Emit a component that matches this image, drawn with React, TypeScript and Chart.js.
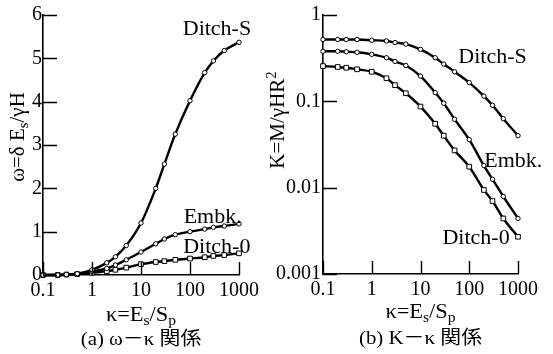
import React, { useEffect, useRef } from 'react';
import { Chart, registerables } from 'chart.js';
Chart.register(...registerables);

// ---- data ----
const kappa = [0.1, 0.2, 0.3, 0.5, 1, 2, 3, 5, 10, 20, 30, 50, 100, 200, 300, 500, 1000];
const omegaDitchS = [0, 0, 0.01, 0.03, 0.12, 0.28, 0.42, 0.68, 1.2, 2.0, 2.56, 3.25, 4.02, 4.67, 4.94, 5.18, 5.37];
const omegaEmbk = [0, 0, 0.01, 0.03, 0.08, 0.15, 0.23, 0.35, 0.53, 0.72, 0.83, 0.93, 1.0, 1.06, 1.1, 1.13, 1.18];
const omegaDitch0 = [0, 0, 0.01, 0.02, 0.05, 0.09, 0.12, 0.17, 0.25, 0.3, 0.32, 0.35, 0.38, 0.41, 0.44, 0.46, 0.5];
const KDitchS = [0.52, 0.52, 0.52, 0.52, 0.51, 0.5, 0.48, 0.46, 0.4, 0.32, 0.27, 0.22, 0.165, 0.115, 0.09, 0.063, 0.04];
const KEmbk = [0.38, 0.38, 0.375, 0.37, 0.35, 0.32, 0.29, 0.26, 0.196, 0.126, 0.095, 0.062, 0.036, 0.018, 0.0125, 0.0079, 0.0044];
const KDitch0 = [0.256, 0.25, 0.245, 0.235, 0.22, 0.185, 0.154, 0.124, 0.087, 0.055, 0.04, 0.027, 0.0175, 0.0094, 0.007, 0.0044, 0.0027];
const kappaTicks = [0.1, 1, 10, 100, 1000];
const omegaTicks = [0, 1, 2, 3, 4, 5, 6];
const KTicks = [0.001, 0.01, 0.1, 1];
const seriesNames = ['Ditch-S', 'Embk.', 'Ditch-0'];
// label anchors (data coordinates)
const omegaLabelX = [355, 290, 352];
const omegaLabelY = [5.65, 1.32, 0.62];
const KLabelX = [300, 800, 138];
const KLabelY = [0.318, 0.0198, 0.00254];

const FAMILY = '"Liberation Serif", "Noto Sans CJK JP", serif';
const font = (s: number) => `${s}px ${FAMILY}`;

type Part = [string, number]; // 0 normal, 1 sub, 2 sup

function drawRich(ctx: CanvasRenderingContext2D, parts: Part[], x: number, y: number, size: number, sx = 1) {
  const small = Math.round(size * 0.68);
  let total = 0;
  const widths = parts.map(([t, m]) => {
    ctx.font = font(m ? small : size);
    const w = ctx.measureText(t).width;
    total += w;
    return w;
  });
  ctx.save();
  ctx.translate(x, y);
  ctx.scale(sx, 1);
  ctx.fillStyle = '#000';
  ctx.textBaseline = 'alphabetic';
  ctx.textAlign = 'left';
  let cx = -total / 2;
  const base = size * 0.34;
  parts.forEach(([t, m], i) => {
    ctx.font = font(m ? small : size);
    const dy = m === 1 ? size * 0.22 : m === 2 ? -size * 0.4 : 0;
    ctx.fillText(t, cx, base + dy);
    cx += widths[i];
  });
  ctx.restore();
}

function makeDatasets(values: number[][]) {
  return values.map((vals, i) => ({
    label: seriesNames[i],
    data: kappa.map((k, j) => ({ x: k, y: vals[j] })),
    borderColor: '#000',
    borderWidth: 2.4,
    backgroundColor: '#fff',
    pointBackgroundColor: '#fff',
    pointBorderColor: '#000',
    pointBorderWidth: 1,
    pointStyle: i === 2 ? 'rect' : 'circle',
    pointRadius: i === 2 ? 3.3 : 2.2,
    cubicInterpolationMode: 'monotone' as const,
    clip: false as any,
  }));
}

function makeOptions(cfg: {
  yType: 'linear' | 'logarithmic';
  yMin: number; yMax: number; yTicks: number[];
  yWidth: number; xHeight: number; padRight: number;
  yPad: number; xPad: number;
  labelsX: number[]; labelsY: number[];
  yTitle: Part[]; yTitleDX: number; yTitleY: number;
  xTitleY: number; caption: string; captionY: number;
}) {
  const tickFont = { family: FAMILY, size: 20 };
  const plugin = {
    id: 'deco',
    afterDraw(chart: any) {
      const { ctx, chartArea: a, scales } = chart;
      const xs = scales.x, ys = scales.y;
      ctx.save();
      ctx.strokeStyle = '#000';
      ctx.lineWidth = 1.4;
      ctx.beginPath();
      kappaTicks.forEach((v) => {
        const px = Math.round(xs.getPixelForValue(v)) + 0.5;
        ctx.moveTo(px, a.bottom);
        ctx.lineTo(px, a.bottom - 13);
      });
      cfg.yTicks.forEach((v) => {
        const py = Math.round(ys.getPixelForValue(v)) + 0.5;
        ctx.moveTo(a.left, py);
        ctx.lineTo(a.left + 14, py);
      });
      ctx.stroke();
      ctx.restore();
      // series labels
      ctx.save();
      ctx.fillStyle = '#000';
      ctx.font = font(20);
      ctx.textAlign = 'center';
      ctx.textBaseline = 'middle';
      seriesNames.forEach((n, i) => {
        const px = xs.getPixelForValue(cfg.labelsX[i]);
        const py = ys.getPixelForValue(cfg.labelsY[i]);
        ctx.save();
        ctx.translate(px, py);
        ctx.scale(1.1, 1);
        ctx.fillText(n, 0, 0);
        ctx.restore();
      });
      ctx.restore();
      // y title
      ctx.save();
      ctx.translate(a.left + cfg.yTitleDX, cfg.yTitleY);
      ctx.rotate(-Math.PI / 2);
      drawRich(ctx, cfg.yTitle, 0, 0, 20, 1.05);
      ctx.restore();
      // x title
      const cx = (a.left + a.right) / 2;
      drawRich(ctx, [['κ=E', 0], ['s', 1], ['/S', 0], ['p', 1]], cx, cfg.xTitleY, 20, 1.12);
      drawRich(ctx, [[cfg.caption, 0]], cx, cfg.captionY, 19, 1.1);
    },
  };
  return {
    plugin,
    options: {
      responsive: false,
      maintainAspectRatio: false,
      animation: false as const,
      events: [] as any[],
      layout: { padding: { left: 0, right: cfg.padRight, top: 15, bottom: 0 } },
      plugins: { legend: { display: false }, tooltip: { enabled: false } },
      scales: {
        x: {
          type: 'logarithmic' as const,
          min: 0.1,
          max: 1000,
          afterBuildTicks: (s: any) => { s.ticks = kappaTicks.map((v) => ({ value: v })); },
          afterFit: (s: any) => { s.height = cfg.xHeight; },
          ticks: { color: '#000', font: tickFont, padding: cfg.xPad, maxRotation: 0, autoSkip: false, callback: (v: any) => String(v) },
          grid: { display: true, drawOnChartArea: false, drawTicks: false },
          border: { display: true, color: '#000', width: 1.6 },
        },
        y: {
          type: cfg.yType,
          min: cfg.yMin,
          max: cfg.yMax,
          afterBuildTicks: (s: any) => { s.ticks = cfg.yTicks.map((v) => ({ value: v })); },
          afterFit: (s: any) => { s.width = cfg.yWidth; },
          ticks: { color: '#000', font: tickFont, padding: cfg.yPad, autoSkip: false, callback: (v: any) => String(v) },
          grid: { display: true, drawOnChartArea: false, drawTicks: false },
          border: { display: true, color: '#000', width: 1.6 },
        },
      },
    },
  };
}

function Panel(props: { w: number; build: () => any }) {
  const ref = useRef<HTMLCanvasElement>(null);
  useEffect(() => {
    const { datasets, plugin, options } = props.build();
    const chart = new Chart(ref.current!, {
      type: 'line',
      data: { datasets },
      options,
      plugins: [plugin],
    } as any);
    return () => chart.destroy();
  }, []);
  return <canvas ref={ref} width={props.w} height={354} style={{ display: 'block', width: props.w, height: 354 }} />;
}

const buildLeft = () => {
  const { plugin, options } = makeOptions({
    yType: 'linear', yMin: 0, yMax: 6, yTicks: omegaTicks,
    yWidth: 43, xHeight: 79, padRight: 27, yPad: 1, xPad: 4,
    labelsX: omegaLabelX, labelsY: omegaLabelY,
    yTitle: [['ω=δ E', 0], ['s', 1], ['/γH', 0]], yTitleDX: -26, yTitleY: 137,
    xTitleY: 314, caption: '(a) ω－κ 関係', captionY: 339,
  });
  return { datasets: makeDatasets([omegaDitchS, omegaEmbk, omegaDitch0]), plugin, options };
};

const buildRight = () => {
  const { plugin, options } = makeOptions({
    yType: 'logarithmic', yMin: 0.001, yMax: 1, yTicks: KTicks,
    yWidth: 57, xHeight: 80, padRight: 35, yPad: 2, xPad: 4,
    labelsX: KLabelX, labelsY: KLabelY,
    yTitle: [['K=M/γHR', 0], ['2', 2]], yTitleDX: -46, yTitleY: 120,
    xTitleY: 311, caption: '(b) K－κ 関係', captionY: 338,
  });
  return { datasets: makeDatasets([KDitchS, KEmbk, KDitch0]), plugin, options };
};

export default function App() {
  return (
    <div style={{ position: 'fixed', left: 0, top: 0, width: 553, height: 354, background: '#fff', display: 'flex' }}>
      <Panel w={266} build={buildLeft} />
      <Panel w={287} build={buildRight} />
    </div>
  );
}
